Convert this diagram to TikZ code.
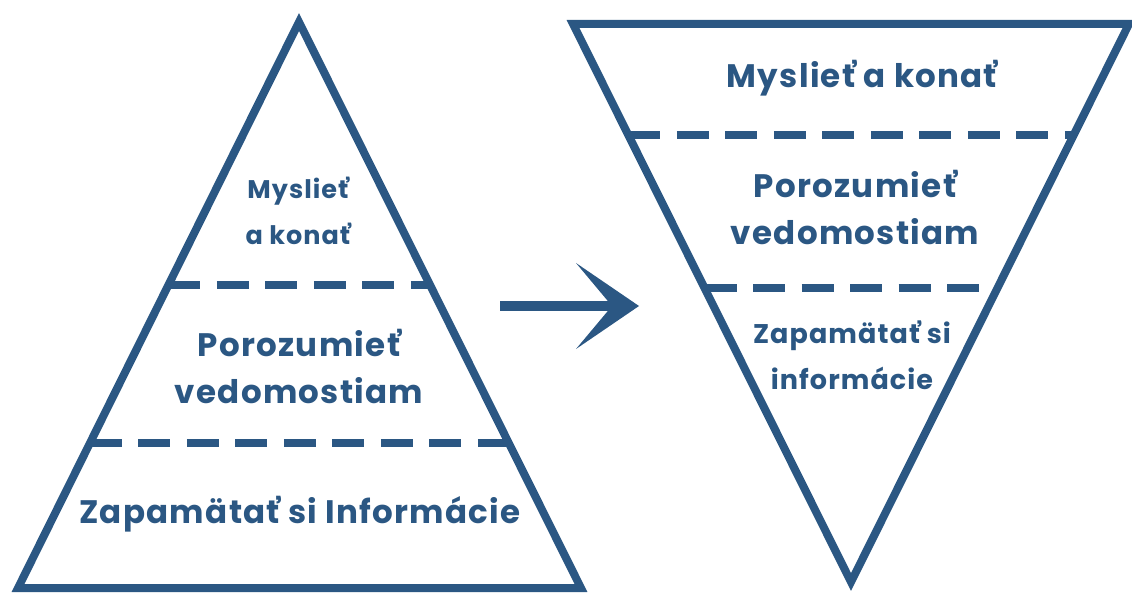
\documentclass[tikz,border=0pt]{standalone}
\usepackage{fontspec}
\setmainfont{Poppins}[LetterSpace=4]
\usetikzlibrary{arrows.meta,calc}
\definecolor{pyrblue}{RGB}{43,87,131}

\begin{document}
\begin{tikzpicture}[x=1pt,y=-1pt,
	tri/.style={draw=pyrblue,line width=8pt,line join=miter},
	sep/.style={draw=pyrblue,line width=8pt,dash pattern=on 32pt off 16.5pt},
	lbl/.style={text=pyrblue,font=\bfseries\fontsize{32.5}{47}\selectfont,align=center,inner sep=0pt},
	lbls/.style={lbl,font=\bfseries\fontsize{27}{46}\selectfont}]
	\useasboundingbox (0,0) rectangle (1132,593);
	% left pyramid
	\coordinate (ltop) at (299,22);
	\coordinate (lleft) at (18,588);
	\coordinate (lright) at (581,588);
	\draw[tri] (ltop) -- (lleft) -- (lright) -- cycle;
	\draw[sep] ($(ltop)!.465!(lleft)$) -- ($(ltop)!.465!(lright)$);
	\draw[sep] ($(ltop)!.744!(lleft)$) -- ($(ltop)!.744!(lright)$);
	%	\draw[sep] ($(ltop)!.25!(lleft)$) -- ($(ltop)!.25!(lright)$);
	\node[lbls,font=\bfseries\fontsize{25.5}{46}\selectfont] (lthink) at (298,211) {Myslieť\\a konať};
	\node[lbl] (lgrasp) at (299,366) {Porozumieť\\vedomostiam};
	\node[lbl,anchor=base] (lrecall) at (300,523) {Zapamätať si Informácie};
	% arrow
	\coordinate (arrS) at (500,306);
	\coordinate (arrE) at (639,306);
	\draw[pyrblue,line width=10pt,-{Stealth[length=63pt,width=86pt,inset=36pt,line width=0pt]}] (arrS) -- (arrE);
	% right (inverted) pyramid
	\coordinate (rleft) at (573,24);
	\coordinate (rright) at (1129,24);
	\coordinate (rbot) at (851,582);
	\draw[tri] (rleft) -- (rright) -- (rbot) -- cycle;
	\draw[sep] ($(rleft)!.199!(rbot)$) -- ($(rright)!.199!(rbot)$);
	\draw[sep] ($(rleft)!.473!(rbot)$) -- ($(rright)!.473!(rbot)$);
	\node[lbl,anchor=base] (rthink) at (862,88) {Myslieť a konať};
	\node[lbl] (rgrasp) at (855,207) {Porozumieť\\vedomostiam};
	\node[lbls] (rrecall) at (852,355) {Zapamätať si\\informácie};
\end{tikzpicture}
\end{document}
